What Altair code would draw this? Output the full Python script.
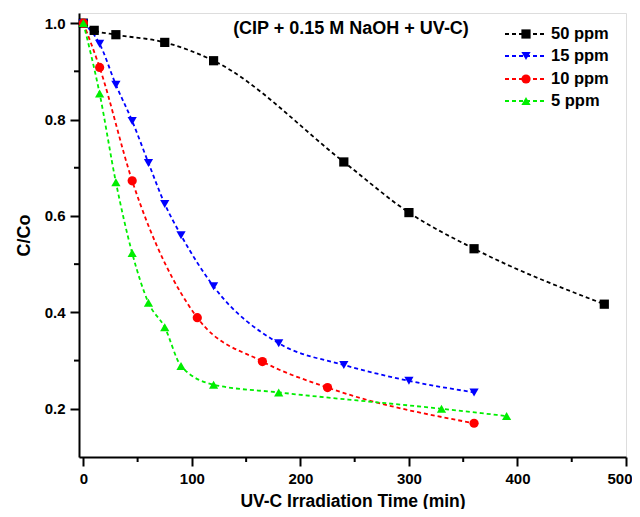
import altair as alt
import pandas as pd

# ---- data ----
series_names = ["50 ppm", "15 ppm", "10 ppm", "5 ppm"]
series_colors = ["#000000", "#0000ff", "#ff0000", "#00ee00"]
series_shapes = ["square", "triangle-down", "circle", "triangle-up"]

t50 = [0, 10, 30, 75, 120, 240, 300, 360, 480]
c50 = [1.0, 0.985, 0.976, 0.960, 0.922, 0.712, 0.607, 0.532, 0.417]

t15 = [0, 15, 30, 45, 60, 75, 90, 120, 180, 240, 300, 360]
c15 = [1.0, 0.957, 0.872, 0.797, 0.710, 0.625, 0.560, 0.454, 0.336, 0.291, 0.258, 0.234]

t10 = [0, 15, 45, 105, 165, 225, 360]
c10 = [1.0, 0.908, 0.673, 0.389, 0.298, 0.244, 0.170]

t5 = [0, 15, 30, 45, 60, 75, 90, 120, 180, 330, 390]
c5 = [1.0, 0.854, 0.670, 0.523, 0.420, 0.369, 0.289, 0.250, 0.234, 0.200, 0.185]

x_major = [0, 100, 200, 300, 400, 500]
x_minor = [50, 150, 250, 350, 450]
y_major = [0.2, 0.4, 0.6, 0.8, 1.0]
y_minor = [0.3, 0.5, 0.7, 0.9]

rows = []
for name, ts, cs in zip(series_names, [t50, t15, t10, t5], [c50, c15, c10, c5]):
    for t, c in zip(ts, cs):
        rows.append({"series": name, "time": t, "cc": c})
df = pd.DataFrame(rows)

FONT = "Liberation Sans"
W, H = 547, 444

xscale = alt.Scale(domain=[-4, 500], nice=False, zero=False)
yscale = alt.Scale(domain=[0.1, 1.021], nice=False, zero=False)
color = alt.Color("series:N", scale=alt.Scale(domain=series_names, range=series_colors), legend=None)
shape = alt.Shape("series:N", scale=alt.Scale(domain=series_names, range=series_shapes), legend=None)

base = alt.Chart(df)

x_main = alt.X("time:Q", scale=xscale,
               axis=alt.Axis(values=x_major, title="UV-C Irradiation Time (min)", orient="bottom",
                             tickSize=9, tickWidth=2, domainWidth=2, domainColor="black",
                             tickColor="black", labelFont=FONT, labelFontWeight="bold",
                             labelFontSize=15, labelColor="black", labelPadding=5,
                             titleFont=FONT, titleFontWeight="bold", titleFontSize=17.5,
                             titleColor="black", titlePadding=6, grid=False,
                             labelFlush=2, labelFlushOffset=6))
y_main = alt.Y("cc:Q", scale=yscale,
               axis=alt.Axis(values=y_major, format=".1f", title="C/Co", orient="left",
                             tickSize=9, tickWidth=2, domainWidth=2, domainColor="black",
                             tickColor="black", labelFont=FONT, labelFontWeight="bold",
                             labelFontSize=15, labelColor="black", labelPadding=5,
                             titleFont=FONT, titleFontWeight="bold", titleFontSize=18,
                             titleColor="black", titlePadding=11, grid=False, labelFlush=False))

lines = base.mark_line(interpolate="monotone", strokeDash=[4, 3], strokeWidth=1.8).encode(
    x=x_main, y=y_main, color=color, detail="series:N")

points = base.mark_point(filled=True, opacity=1, size=85).encode(
    x=alt.X("time:Q", scale=xscale), y=alt.Y("cc:Q", scale=yscale),
    color=color, shape=shape)

# minor ticks drawn as short rules just outside the frame
xminor_ticks = alt.Chart(pd.DataFrame({"time": x_minor})).mark_rule(
    color="black", strokeWidth=2, clip=False).encode(
    x=alt.X("time:Q", scale=xscale), y=alt.value(H), y2=alt.value(H + 5))
yminor_ticks = alt.Chart(pd.DataFrame({"cc": y_minor})).mark_rule(
    color="black", strokeWidth=2, clip=False).encode(
    y=alt.Y("cc:Q", scale=yscale), x=alt.value(0), x2=alt.value(-5))

# annotation title
title_txt = alt.Chart(pd.DataFrame({"t": ["(CIP + 0.15 M NaOH + UV-C)"]})).mark_text(
    font=FONT, fontWeight="bold", fontSize=18, color="black", align="center", baseline="middle"
).encode(x=alt.value(272), y=alt.value(16), text="t:N")

# custom legend
legend_layers = []
legend_y = [21, 43, 66, 88]
for name, col, shp, ly in zip(series_names, series_colors, series_shapes, legend_y):
    ldf = pd.DataFrame({"label": [name]})
    lc = alt.Chart(ldf)
    legend_layers.append(lc.mark_rule(color=col, strokeDash=[4, 3], strokeWidth=1.8).encode(
        x=alt.value(426), x2=alt.value(468), y=alt.value(ly)))
    legend_layers.append(lc.mark_point(filled=True, opacity=1, size=85, color=col, shape=shp).encode(
        x=alt.value(447), y=alt.value(ly)))
    legend_layers.append(lc.mark_text(font=FONT, fontWeight="bold", fontSize=16.5, color="black",
                                      align="left", baseline="middle").encode(
        x=alt.value(472), y=alt.value(ly), text="label:N"))

chart = alt.layer(lines, points, xminor_ticks, yminor_ticks, title_txt, *legend_layers).properties(
    width=W, height=H,
    autosize=alt.AutoSizeParams(type="none"),
    padding={"left": 71, "top": 5, "right": 6, "bottom": 52},
).configure_view(stroke="black", strokeWidth=2).configure(background="white")

chart.save("out.html", embed_options={"renderer": "svg", "actions": False})
